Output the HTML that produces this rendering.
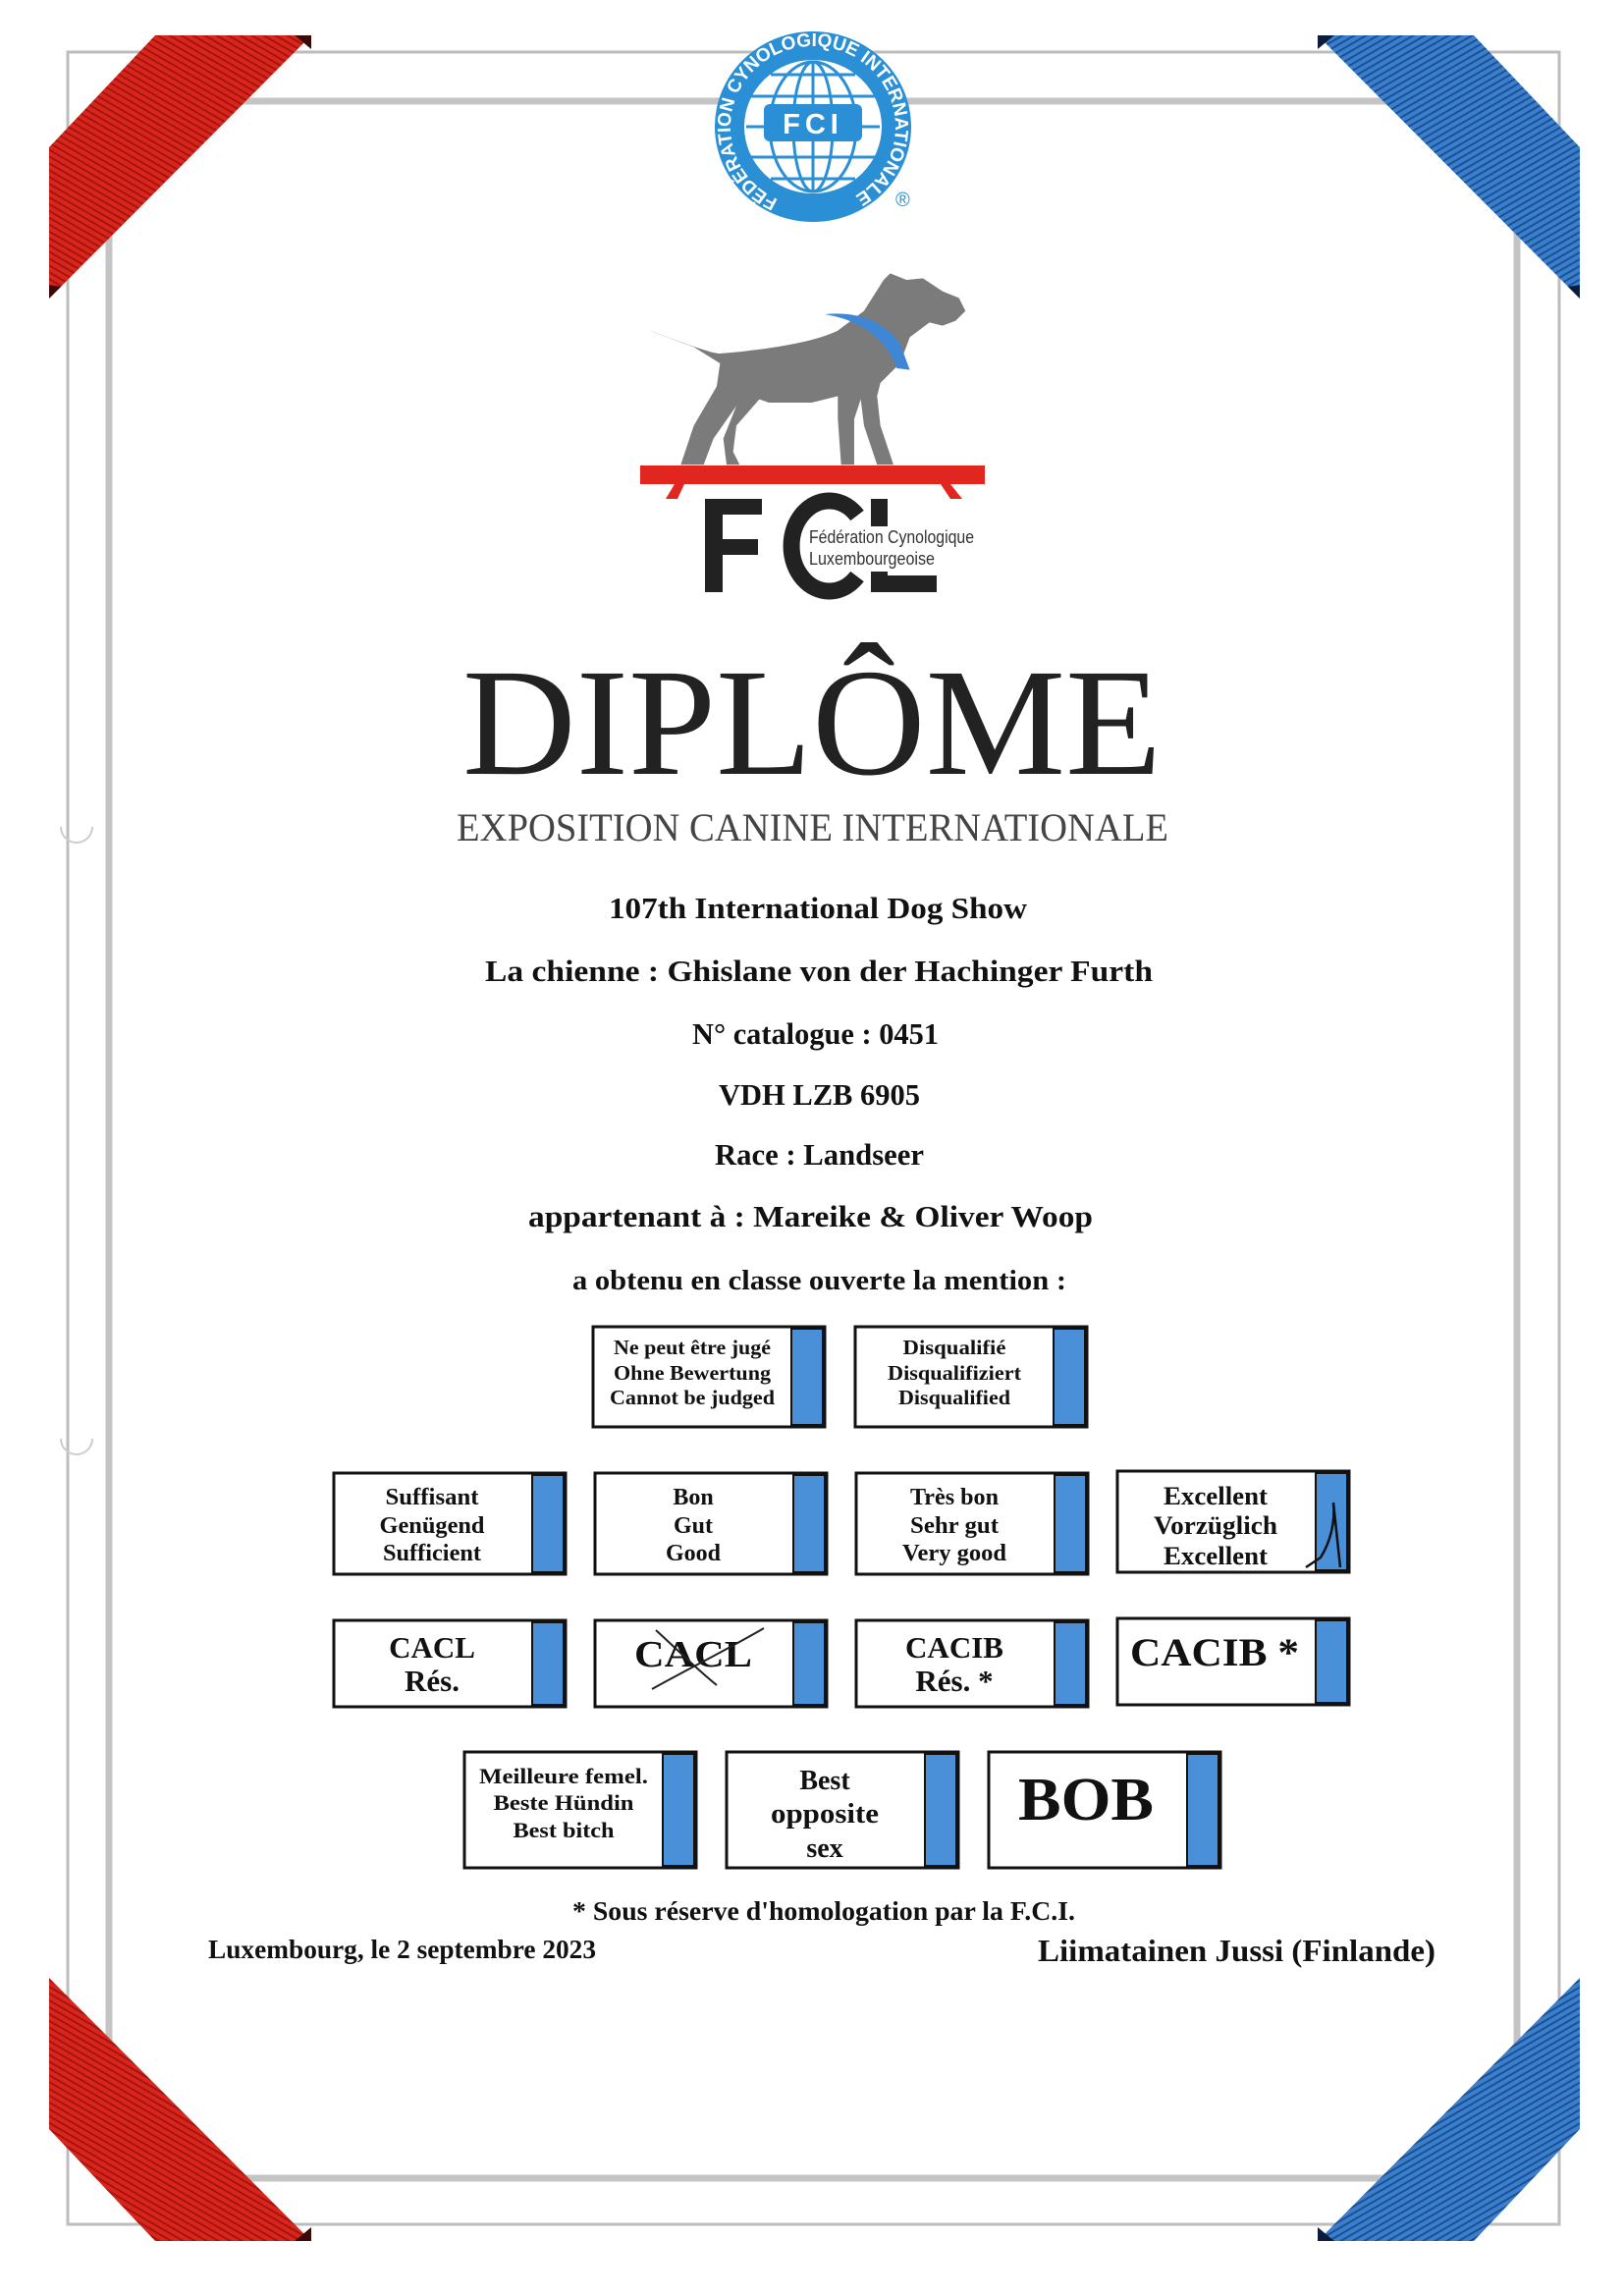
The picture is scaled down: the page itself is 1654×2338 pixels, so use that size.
<!DOCTYPE html>
<html><head><meta charset="utf-8"><style>
html,body{margin:0;padding:0;background:#fff}
svg{display:block}
.t{font-family:"Liberation Serif",serif;font-weight:bold;fill:#111}
</style></head><body>
<svg width="1654" height="2338" viewBox="0 0 1654 2338" xmlns="http://www.w3.org/2000/svg">
<defs>
<pattern id="rs" width="6" height="6" patternUnits="userSpaceOnUse" patternTransform="rotate(-60)"><rect width="6" height="6" fill="#d9261c"/><rect width="2" height="6" fill="#a5140f"/></pattern>
<pattern id="bs" width="6" height="6" patternUnits="userSpaceOnUse" patternTransform="rotate(60)"><rect width="6" height="6" fill="#3a7fcc"/><rect width="2" height="6" fill="#1d4f95"/></pattern>
<path id="ring" d="M828,211 a84,82 0 1,1 0.01,0"/>
</defs>
<rect width="1654" height="2338" fill="#fff"/>
<rect x="69" y="53" width="1519" height="2212" fill="none" stroke="#bdbdbd" stroke-width="3"/>
<rect x="111" y="103" width="1434" height="2115" fill="none" stroke="#c4c4c4" stroke-width="7"/>
<polygon points="158,36 317,36 50,304 50,150" fill="url(#rs)"/>
<polygon points="300,36 317,36 317,50" fill="#3a0a08"/>
<polygon points="50,290 62,292 50,304" fill="#3a0a08"/>
<polygon points="1501,36 1342,36 1609,304 1609,150" fill="url(#bs)"/>
<polygon points="1359,36 1342,36 1342,50" fill="#0b1d3a"/>
<polygon points="1609,290 1597,292 1609,304" fill="#0b1d3a"/>
<polygon points="158,2282 317,2282 50,2014 50,2168" fill="url(#rs)"/>
<polygon points="300,2282 317,2282 317,2268" fill="#3a0a08"/>
<polygon points="1501,2282 1342,2282 1609,2014 1609,2168" fill="url(#bs)"/>
<polygon points="1359,2282 1342,2282 1342,2268" fill="#0b1d3a"/>
<path d="M62,842 a16,16 0 0,0 32,0" fill="none" stroke="#ccc" stroke-width="2"/>
<path d="M62,1465 a16,16 0 0,0 32,0" fill="none" stroke="#ccc" stroke-width="2"/>
<ellipse cx="828" cy="129" rx="100" ry="97" fill="#2a8fd4"/>
<ellipse cx="828" cy="129" rx="70" ry="68" fill="#fff"/>
<g stroke="#2a8fd4" stroke-width="3" fill="none">
<ellipse cx="828" cy="129" rx="44" ry="66"/><ellipse cx="828" cy="129" rx="20" ry="66"/>
<line x1="760" y1="129" x2="896" y2="129"/><line x1="765" y1="98" x2="891" y2="98"/><line x1="765" y1="160" x2="891" y2="160"/>
<line x1="785" y1="76" x2="871" y2="76"/><line x1="785" y1="182" x2="871" y2="182"/><line x1="828" y1="63" x2="828" y2="195"/>
</g>
<rect x="778" y="106" width="100" height="38" rx="6" fill="#2a8fd4"/>
<text x="828" y="136" text-anchor="middle" font-family="Liberation Sans,sans-serif" font-weight="bold" font-size="29" fill="#fff" letter-spacing="5">FCI</text>
<text font-family="Liberation Sans,sans-serif" font-weight="bold" font-size="19" fill="#fff"><textPath href="#ring" startOffset="7%" textLength="440" lengthAdjust="spacingAndGlyphs">FÉDÉRATION CYNOLOGIQUE INTERNATIONALE</textPath></text>
<text x="912" y="210" font-family="Liberation Sans,sans-serif" font-size="20" fill="#2a8fd4">®</text>
<g transform="translate(640,260) scale(0.3333)">
<path fill="#7b7b7b" d="M50,225 C150,260 250,300 280,300 C400,290 560,270 640,230 L720,170 L780,75 L800,55 L850,75 L900,70 L960,110 L1010,130 L1030,170 L1000,200 L960,215 L920,205 L860,250 L830,330 L770,390 L760,430 L770,520 L810,640 L760,640 L720,520 L710,440 L690,500 L690,640 L650,640 L640,500 L640,430 L560,450 L430,450 L400,440 L330,520 L320,600 L340,640 L300,640 L290,560 L330,460 L260,560 L230,640 L160,640 L200,520 L270,400 L280,330 L200,280 Z"/>
<path fill="#3d87d6" d="M600,180 C700,170 780,200 830,270 L860,350 L820,345 C790,260 720,200 600,180 Z"/>
</g>
<rect x="652" y="474" width="351" height="19" fill="#e0261e"/>
<polygon points="687,493 697,493 690,508 678,508" fill="#e0261e"/>
<polygon points="958,493 968,493 980,508 968,508" fill="#e0261e"/>
<path fill="#222" d="M718,508 h58 v16 h-40 v25 h36 v16 h-36 v38 h-18 z"/>
<path fill="none" stroke="#222" stroke-width="17" d="M873,525 A38.5,46 0 1,0 873,587"/>
<path fill="#222" d="M887,508 h17 v78 h50 v17 h-67 z"/>
<rect x="823" y="536" width="172" height="46" fill="#fff"/>
<text x="824" y="553" font-family="Liberation Sans,sans-serif" font-size="18" fill="#333" textLength="168" lengthAdjust="spacingAndGlyphs">Fédération Cynologique</text>
<text x="824" y="575" font-family="Liberation Sans,sans-serif" font-size="18" fill="#333" textLength="128" lengthAdjust="spacingAndGlyphs">Luxembourgeoise</text>
<text x="471" y="788" font-family="Liberation Serif,serif" font-size="156" fill="#222" textLength="712" lengthAdjust="spacingAndGlyphs">DIPLÔME</text>
<text x="465" y="856" font-family="Liberation Serif,serif" font-size="40" fill="#444" textLength="725" lengthAdjust="spacingAndGlyphs">EXPOSITION CANINE INTERNATIONALE</text>
<g class="t" font-size="31">
<text x="620" y="935" textLength="426" lengthAdjust="spacingAndGlyphs">107th International Dog Show</text>
<text x="494" y="999" textLength="680" lengthAdjust="spacingAndGlyphs">La chienne :  Ghislane von der Hachinger Furth</text>
<text x="705" y="1063" textLength="251" lengthAdjust="spacingAndGlyphs">N° catalogue : 0451</text>
<text x="732" y="1125" textLength="205" lengthAdjust="spacingAndGlyphs">VDH LZB 6905</text>
<text x="728" y="1186" textLength="213" lengthAdjust="spacingAndGlyphs">Race : Landseer</text>
<text x="538" y="1249" textLength="575" lengthAdjust="spacingAndGlyphs">appartenant à : Mareike &amp; Oliver Woop</text>
<text x="583" y="1313" textLength="503" lengthAdjust="spacingAndGlyphs" font-size="29">a obtenu en classe ouverte la mention :</text>
<text x="583" y="1955" textLength="512" lengthAdjust="spacingAndGlyphs" font-size="27">* Sous réserve d'homologation par la F.C.I.</text>
<text x="212" y="1994" textLength="395" lengthAdjust="spacingAndGlyphs" font-size="27">Luxembourg, le 2 septembre 2023</text>
<text x="1057" y="1997" textLength="405" lengthAdjust="spacingAndGlyphs" font-size="32">Liimatainen Jussi (Finlande)</text>
</g>
<g fill="#fff" stroke="#111" stroke-width="3">
<rect x="604" y="1351" width="236" height="102"/><rect x="871" y="1351" width="236" height="102"/>
<rect x="340" y="1500" width="236" height="103"/><rect x="606" y="1500" width="236" height="103"/><rect x="872" y="1500" width="236" height="103"/><rect x="1138" y="1498" width="236" height="103"/>
<rect x="340" y="1650" width="236" height="88"/><rect x="606" y="1650" width="236" height="88"/><rect x="872" y="1650" width="236" height="88"/><rect x="1138" y="1648" width="236" height="88"/>
<rect x="473" y="1784" width="236" height="118"/><rect x="740" y="1784" width="236" height="118"/><rect x="1007" y="1784" width="236" height="118"/>
</g>
<g fill="#4a90d9" stroke="#111" stroke-width="2">
<rect x="806" y="1353" width="32" height="98"/><rect x="1073" y="1353" width="32" height="98"/>
<rect x="542" y="1502" width="32" height="99"/><rect x="808" y="1502" width="32" height="99"/><rect x="1074" y="1502" width="32" height="99"/><rect x="1340" y="1500" width="32" height="99"/>
<rect x="542" y="1652" width="32" height="84"/><rect x="808" y="1652" width="32" height="84"/><rect x="1074" y="1652" width="32" height="84"/><rect x="1340" y="1650" width="32" height="84"/>
<rect x="675" y="1786" width="32" height="114"/><rect x="942" y="1786" width="32" height="114"/><rect x="1209" y="1786" width="32" height="114"/>
</g>
<g class="t" text-anchor="middle" font-size="21">
<text x="705" y="1379" textLength="160" lengthAdjust="spacingAndGlyphs">Ne peut être jugé</text>
<text x="705" y="1405" textLength="160" lengthAdjust="spacingAndGlyphs">Ohne Bewertung</text>
<text x="705" y="1430" textLength="168" lengthAdjust="spacingAndGlyphs">Cannot be judged</text>
<text x="972" y="1379" textLength="105" lengthAdjust="spacingAndGlyphs">Disqualifié</text>
<text x="972" y="1405" textLength="136" lengthAdjust="spacingAndGlyphs">Disqualifiziert</text>
<text x="972" y="1430" textLength="114" lengthAdjust="spacingAndGlyphs">Disqualified</text>
</g>
<g class="t" text-anchor="middle" font-size="24">
<text x="440" y="1532" textLength="95" lengthAdjust="spacingAndGlyphs">Suffisant</text>
<text x="440" y="1561" textLength="107" lengthAdjust="spacingAndGlyphs">Genügend</text>
<text x="440" y="1589" textLength="100" lengthAdjust="spacingAndGlyphs">Sufficient</text>
<text x="706" y="1532">Bon</text><text x="706" y="1561">Gut</text><text x="706" y="1589">Good</text>
<text x="972" y="1532" textLength="90" lengthAdjust="spacingAndGlyphs">Très bon</text>
<text x="972" y="1561" textLength="90" lengthAdjust="spacingAndGlyphs">Sehr gut</text>
<text x="972" y="1589" textLength="106" lengthAdjust="spacingAndGlyphs">Very good</text>
<text x="1238" y="1532" font-size="26" textLength="106" lengthAdjust="spacingAndGlyphs">Excellent</text>
<text x="1238" y="1562" font-size="26" textLength="126" lengthAdjust="spacingAndGlyphs">Vorzüglich</text>
<text x="1238" y="1593" font-size="26" textLength="106" lengthAdjust="spacingAndGlyphs">Excellent</text>
<text x="440" y="1688" font-size="31">CACL</text><text x="440" y="1722" font-size="31">Rés.</text>
<text x="706" y="1697" font-size="38" textLength="120" lengthAdjust="spacingAndGlyphs">CACL</text>
<text x="972" y="1688" font-size="31">CACIB</text><text x="972" y="1722" font-size="31">Rés. *</text>
<text x="1151" y="1696" font-size="40" text-anchor="start" textLength="172" lengthAdjust="spacingAndGlyphs">CACIB *</text>
<text x="574" y="1816" font-size="22" textLength="172" lengthAdjust="spacingAndGlyphs">Meilleure femel.</text>
<text x="574" y="1843" font-size="22" textLength="143" lengthAdjust="spacingAndGlyphs">Beste Hündin</text>
<text x="574" y="1871" font-size="22" textLength="103" lengthAdjust="spacingAndGlyphs">Best bitch</text>
<text x="840" y="1822" font-size="28">Best</text>
<text x="840" y="1856" font-size="28" textLength="110" lengthAdjust="spacingAndGlyphs">opposite</text>
<text x="840" y="1891" font-size="28">sex</text>
<text x="1106" y="1853" font-size="62" textLength="138" lengthAdjust="spacingAndGlyphs">BOB</text>
</g>
<path d="M664,1720 C700,1700 740,1680 778,1658" stroke="#222" stroke-width="2" fill="none"/>
<path d="M668,1660 C690,1680 710,1700 730,1716" stroke="#222" stroke-width="2" fill="none"/>
<path d="M1330,1596 L1345,1586 C1355,1570 1360,1550 1358,1530 L1365,1596" stroke="#111" stroke-width="2.5" fill="none"/>
</svg>
</body></html>
